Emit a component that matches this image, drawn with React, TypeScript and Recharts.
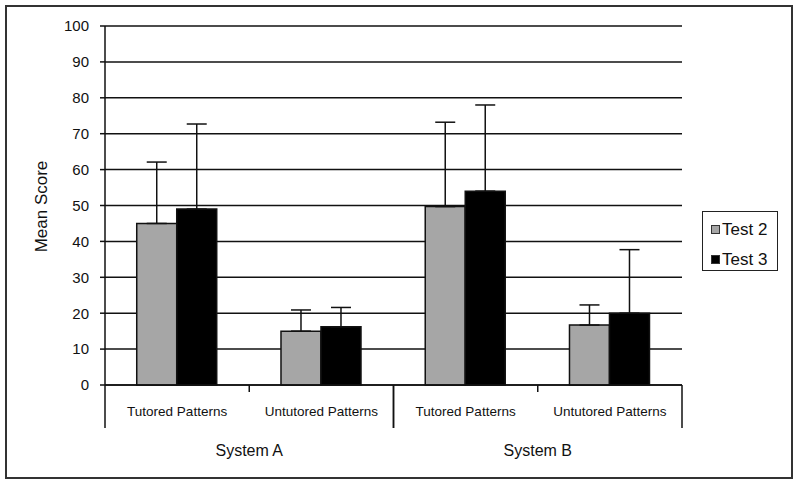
import React from "react";
import { BarChart, Bar, XAxis, YAxis, CartesianGrid, ErrorBar } from "recharts";

const categories = ["Tutored Patterns", "Untutored Patterns", "Tutored Patterns", "Untutored Patterns"];
const systems = ["System A", "System A", "System B", "System B"];
const test2 = [45, 15, 49.7, 16.7];
const test3 = [49, 16.2, 54, 20];
const test2Err = [17.1, 5.9, 23.5, 5.6];
const test3Err = [23.7, 5.4, 24, 17.7];
const yTicks = [0, 10, 20, 30, 40, 50, 60, 70, 80, 90, 100];
const seriesNames = ["Test 2", "Test 3"];
const seriesColors = ["#A6A6A6", "#000000"];

const data = categories.map((name, i) => ({
  name,
  system: systems[i],
  test2: test2[i],
  test3: test3[i],
  test2Err: test2Err[i],
  test3Err: test3Err[i],
}));

const FONT = "'Liberation Sans', Arial, sans-serif";
const PLOT_LEFT = 105;
const PLOT_RIGHT = 682;
const BAND = (PLOT_RIGHT - PLOT_LEFT) / categories.length;
const CAT_AXIS_H = 30;
const LINE = "#111";

function CategoryTick(props: any) {
  const { x, y, payload, index } = props;
  return (
    <g>
      <text x={x} y={y + 31} textAnchor="middle" fontSize={13.5} fill="#111" fontFamily={FONT}>
        {payload.value}
      </text>
      {index % 2 === 0 && (
        <line x1={x + BAND / 2} x2={x + BAND / 2} y1={y} y2={y + 7} stroke={LINE} strokeWidth={1.5} />
      )}
    </g>
  );
}

function SystemTick(props: any) {
  const { x, y, payload } = props;
  return (
    <g>
      <line x1={x - BAND} x2={x - BAND} y1={y - CAT_AXIS_H} y2={y + 13} stroke={LINE} strokeWidth={1.5} />
      <line x1={x + BAND} x2={x + BAND} y1={y - CAT_AXIS_H} y2={y + 13} stroke={LINE} strokeWidth={1.5} />
      <text x={x} y={y + 41} textAnchor="middle" fontSize={16} fill="#111" fontFamily={FONT}>
        {payload.value}
      </text>
    </g>
  );
}

function YTitle(props: any) {
  const vb = props.viewBox;
  const cx = 41;
  const cy = vb.y + vb.height / 2 + 1;
  return (
    <text
      x={cx}
      y={cy}
      transform={`rotate(-90, ${cx}, ${cy})`}
      textAnchor="middle"
      dominantBaseline="central"
      fontSize={17}
      fill="#111"
      fontFamily={FONT}
    >
      Mean Score
    </text>
  );
}

export default function App() {
  return (
    <div style={{ position: "absolute", left: 0, top: 0, width: 800, height: 487, background: "#fff", fontFamily: FONT }}>
      <BarChart
        width={800}
        height={487}
        data={data}
        margin={{ top: 26, right: 800 - PLOT_RIGHT, left: PLOT_LEFT - 60, bottom: 15 }}
        barCategoryGap="22%"
        barGap={0}
      >
        <CartesianGrid vertical={false} stroke={LINE} strokeWidth={1.5} />
        <XAxis
          dataKey="name"
          interval={0}
          height={CAT_AXIS_H}
          tickSize={0}
          tickMargin={0}
          tickLine={false}
          axisLine={{ stroke: LINE, strokeWidth: 1.5 }}
          tick={<CategoryTick />}
        />
        <XAxis
          xAxisId="sys"
          dataKey="system"
          allowDuplicatedCategory={false}
          interval={0}
          height={57}
          tickSize={0}
          tickMargin={0}
          tickLine={false}
          axisLine={false}
          tick={<SystemTick />}
        />
        <YAxis
          width={60}
          domain={[0, 100]}
          ticks={yTicks}
          interval={0}
          tickSize={5}
          tickMargin={11}
          tickLine={{ stroke: LINE, strokeWidth: 1.5 }}
          axisLine={{ stroke: LINE, strokeWidth: 1.5 }}
          tick={{ fontSize: 15, fill: "#111", fontFamily: FONT }}
          label={<YTitle />}
        />
        <YAxis yAxisId="r" orientation="right" width={0} tick={false} tickLine={false} axisLine={{ stroke: "#9a9a9a", strokeWidth: 1.5 }} />
        <Bar dataKey="test2" name={seriesNames[0]} fill={seriesColors[0]} stroke={LINE} strokeWidth={1.5} isAnimationActive={false}>
          <ErrorBar dataKey={(d: any) => [0, d.test2Err]} width={10} stroke={LINE} strokeWidth={1.5} direction="y" isAnimationActive={false} />
        </Bar>
        <Bar dataKey="test3" name={seriesNames[1]} fill={seriesColors[1]} stroke={LINE} strokeWidth={1.5} isAnimationActive={false}>
          <ErrorBar dataKey={(d: any) => [0, d.test3Err]} width={10} stroke={LINE} strokeWidth={1.5} direction="y" isAnimationActive={false} />
        </Bar>
      </BarChart>
      <div
        style={{
          position: "absolute",
          left: 702,
          top: 211,
          width: 76,
          height: 60,
          border: "1.5px solid #222",
          boxSizing: "border-box",
          paddingTop: 5,
        }}
      >
        {seriesNames.map((n, i) => (
          <div key={n} style={{ display: "flex", alignItems: "center", height: 25, marginTop: i === 0 ? 0 : 5, paddingLeft: 8 }}>
            <span
              style={{
                display: "inline-block",
                width: 7,
                height: 7,
                background: seriesColors[i],
                border: "1px solid #333",
                marginRight: 2,
              }}
            />
            <span style={{ fontSize: 17, color: "#111" }}>{n}</span>
          </div>
        ))}
      </div>
      <div
        style={{
          position: "absolute",
          left: 5,
          top: 5,
          width: 788,
          height: 474,
          border: "2px solid #333",
          boxSizing: "border-box",
          pointerEvents: "none",
        }}
      />
    </div>
  );
}
